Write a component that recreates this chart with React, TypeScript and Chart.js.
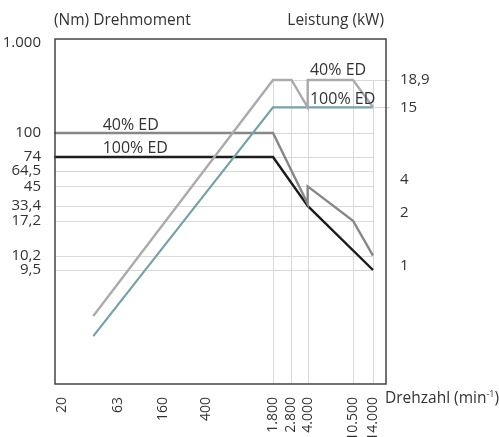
import React, { useEffect, useRef } from 'react';
import { Chart, registerables, LinearScale } from 'chart.js';

Chart.register(...registerables);

// ---------- DATA ----------
const xTickValues = [20, 63, 160, 400, 1800, 2800, 4000, 10500, 14000];
const xTickLabels = ['20', '63', '160', '400', '1.800', '2.800', '4.000', '10.500', '14.000'];
const leftTickValues = [1000, 100, 74, 64.5, 45, 33.4, 17.2, 10.2, 9.5];
const leftTickLabels = ['1.000', '100', '74', '64,5', '45', '33,4', '17,2', '10,2', '9,5'];
const rightTickValues = [18.9, 15, 4, 2, 1];
const rightTickLabels = ['18,9', '15', '4', '2', '1'];

// grid lines that appear in the reference
const leftGridValues = [100, 74, 64.5, 45, 33.4, 17.2, 10.2, 9.5];
const xGridValues = [1800, 2800, 4000, 10500, 14000];
const rightGridValues = [18.9, 15];

// series: Drehmoment (Nm)
const torque40Rpm = [17, 1800, 4000, 4000, 10500, 14000];
const torque40Nm = [100, 100, 34.5, 45, 17.2, 10.2];
const torque100Rpm = [17, 1800, 4000, 14000];
const torque100Nm = [74, 74, 33.4, 9.5];
// series: Leistung (kW)
const power40Rpm = [38, 1800, 2800, 4000, 4000, 10500, 14000];
const power40Kw = [0.52, 18.9, 18.9, 15, 18.9, 18.9, 15];
const power100Rpm = [38, 1800, 14000];
const power100Kw = [0.4, 15, 15];

// ---------- AXIS LAYOUT (where each tick sits along its axis, 0..1) ----------
const xTickFractions = [0.0211, 0.1903, 0.3263, 0.4562, 0.6586, 0.7145, 0.7634, 0.9003, 0.9607];
const leftTickFractions = [0.9884, 0.7275, 0.658, 0.6174, 0.573, 0.516, 0.4733, 0.3719, 0.3304];
const rightTickFractions = [0.8812, 0.802, 0.5913, 0.4957, 0.342];

const anchorsById: Record<string, { values: number[]; fracs: number[] }> = {
  x: { values: xTickValues, fracs: xTickFractions },
  yL: { values: leftTickValues, fracs: leftTickFractions },
  yR: { values: rightTickValues, fracs: rightTickFractions },
};

function sortedAnchors(id: string) {
  const a = anchorsById[id];
  return a.values.map((v, i) => [Math.log10(v), a.fracs[i]]).sort((p, q) => p[0] - q[0]);
}

function valueToFrac(id: string, v: number) {
  const pts = sortedAnchors(id);
  const lv = Math.log10(v);
  let i = 0;
  if (lv >= pts[pts.length - 1][0]) i = pts.length - 2;
  else if (lv > pts[0][0]) {
    while (lv > pts[i + 1][0]) i++;
  }
  const [a0, f0] = pts[i];
  const [a1, f1] = pts[i + 1];
  return f0 + ((lv - a0) / (a1 - a0)) * (f1 - f0);
}

function fracToValue(id: string, f: number) {
  const pts = sortedAnchors(id);
  let i = 0;
  if (f >= pts[pts.length - 1][1]) i = pts.length - 2;
  else if (f > pts[0][1]) {
    while (f > pts[i + 1][1]) i++;
  }
  const [a0, f0] = pts[i];
  const [a1, f1] = pts[i + 1];
  return Math.pow(10, a0 + ((f - f0) / (f1 - f0)) * (a1 - a0));
}

class AnchoredScale extends LinearScale {
  static id = 'anchored';
  static defaults = { ...(LinearScale as any).defaults };
  getPixelForValue(value: number) {
    return (this as any).getPixelForDecimal(valueToFrac((this as any).id, value));
  }
  getValueForPixel(pixel: number) {
    return fracToValue((this as any).id, (this as any).getDecimalForPixel(pixel));
  }
}
Chart.register(AnchoredScale as any);

const FONT = '"Open Sans", "DejaVu Sans", sans-serif';
const TEXT = '#333333';
const GRID = '#d9d9d9';

const edLabels = [
  { text: '40% ED', rpm: 46, value: 100, axis: 'yL', dy: -3 },
  { text: '100% ED', rpm: 46, value: 74, axis: 'yL', dy: -4 },
  { text: '40% ED', rpm: 4200, value: 18.9, axis: 'yR', dy: -5 },
  { text: '100% ED', rpm: 4200, value: 15, axis: 'yR', dy: -3.5 },
];

const decorPlugin = {
  id: 'decor',
  beforeDatasetsDraw(chart: any) {
    const { ctx, chartArea, scales } = chart;
    const sx = scales.x, yL = scales.yL, yR = scales.yR;
    ctx.save();
    ctx.strokeStyle = GRID;
    ctx.lineWidth = 1;
    const xEnd = sx.getPixelForValue(xTickValues[xTickValues.length - 1]);
    leftGridValues.forEach((v) => {
      const y = Math.round(yL.getPixelForValue(v)) + 0.5;
      ctx.beginPath();
      ctx.moveTo(chartArea.left, y);
      ctx.lineTo(xEnd, y);
      ctx.stroke();
    });
    const yTop = yR.getPixelForValue(rightGridValues[0]);
    xGridValues.forEach((v) => {
      const x = Math.round(sx.getPixelForValue(v)) + 0.5;
      ctx.beginPath();
      ctx.moveTo(x, yTop);
      ctx.lineTo(x, chartArea.bottom);
      ctx.stroke();
    });
    const xStart = sx.getPixelForValue(xGridValues[0]);
    rightGridValues.forEach((v) => {
      const y = Math.round(yR.getPixelForValue(v)) + 0.5;
      ctx.beginPath();
      ctx.moveTo(xStart, y);
      ctx.lineTo(chartArea.right + 4, y);
      ctx.stroke();
    });
    ctx.restore();
  },
  afterDatasetsDraw(chart: any) {
    const { ctx, chartArea, scales } = chart;
    ctx.save();
    ctx.strokeStyle = '#444444';
    ctx.lineWidth = 1.5;
    ctx.strokeRect(chartArea.left, chartArea.top, chartArea.right - chartArea.left, chartArea.bottom - chartArea.top);

    ctx.fillStyle = TEXT;
    ctx.textBaseline = 'alphabetic';
    ctx.font = `15.5px ${FONT}`;
    ctx.textAlign = 'left';
    ctx.fillText('(Nm) Drehmoment', 54, 25);
    ctx.textAlign = 'right';
    ctx.fillText('Leistung (kW)', 384, 25);

    // x axis title with superscript
    ctx.textAlign = 'left';
    let x = 385;
    const by = 403;
    ctx.fillText('Drehzahl (min', x, by);
    x += ctx.measureText('Drehzahl (min').width;
    ctx.font = `9px ${FONT}`;
    ctx.fillText('-1', x, by - 6);
    x += ctx.measureText('-1').width;
    ctx.font = `15.5px ${FONT}`;
    ctx.fillText(')', x, by);

    ctx.font = `16px ${FONT}`;
    edLabels.forEach((l) => {
      const px = scales.x.getPixelForValue(l.rpm);
      const py = scales[l.axis].getPixelForValue(l.value) + l.dy;
      ctx.fillText(l.text, px, py);
    });
    ctx.restore();
  },
};

function App() {
  const canvasRef = useRef<HTMLCanvasElement | null>(null);

  useEffect(() => {
    const canvas = canvasRef.current;
    if (!canvas) return;
    const toPts = (xs: number[], ys: number[]) => xs.map((x, i) => ({ x, y: ys[i] }));
    const lineDs = (label: string, data: any[], color: string, width: number, axis: string) => ({
      label,
      data,
      borderColor: color,
      backgroundColor: color,
      borderWidth: width,
      pointRadius: 0,
      tension: 0,
      fill: false,
      yAxisID: axis,
      borderJoinStyle: 'miter' as const,
    });

    const chart = new Chart(canvas, {
      type: 'line',
      data: {
        datasets: [
          lineDs('Leistung 40% ED', toPts(power40Rpm, power40Kw), '#ababab', 2.4, 'yR'),
          lineDs('Leistung 100% ED', toPts(power100Rpm, power100Kw), '#76a1a9', 2.2, 'yR'),
          lineDs('Drehmoment 40% ED', toPts(torque40Rpm, torque40Nm), '#878787', 2.4, 'yL'),
          lineDs('Drehmoment 100% ED', toPts(torque100Rpm, torque100Nm), '#1c1c1c', 2.4, 'yL'),
        ],
      },
      options: {
        responsive: false,
        animation: false,
        events: [],
        layout: { padding: { top: 39, left: 0, right: 0, bottom: 0 } },
        plugins: { legend: { display: false }, tooltip: { enabled: false } },
        scales: {
          x: {
            type: 'anchored' as any,
            position: 'bottom',
            grid: { display: false },
            border: { display: false },
            afterFit: (s: any) => { s.height = 53; },
            afterBuildTicks: (s: any) => { s.ticks = xTickValues.map((v) => ({ value: v })); },
            ticks: {
              autoSkip: false,
              minRotation: 90,
              maxRotation: 90,
              padding: 5,
              color: TEXT,
              font: { family: FONT, size: 14 },
              callback: (v: any) => xTickLabels[xTickValues.indexOf(Number(v))],
            },
          },
          yL: {
            type: 'anchored' as any,
            position: 'left',
            grid: { display: false },
            border: { display: false },
            afterFit: (s: any) => { s.width = 55; },
            afterBuildTicks: (s: any) => { s.ticks = leftTickValues.map((v) => ({ value: v })); },
            ticks: {
              autoSkip: false,
              padding: 6,
              color: TEXT,
              font: { family: FONT, size: 15 },
              callback: (v: any) => leftTickLabels[leftTickValues.indexOf(Number(v))],
            },
          },
          yR: {
            type: 'anchored' as any,
            position: 'right',
            grid: { display: false },
            border: { display: false },
            afterFit: (s: any) => { s.width = 113; },
            afterBuildTicks: (s: any) => { s.ticks = rightTickValues.map((v) => ({ value: v })); },
            ticks: {
              autoSkip: false,
              padding: 6,
              color: TEXT,
              font: { family: FONT, size: 15 },
              callback: (v: any) => rightTickLabels[rightTickValues.indexOf(Number(v))],
            },
          },
        },
      },
      plugins: [decorPlugin],
    });
    return () => chart.destroy();
  }, []);

  return (
    <div style={{ position: 'absolute', left: 0, top: 0, width: 499, height: 437 }}>
      <canvas ref={canvasRef} width={499} height={437} style={{ display: 'block' }} />
    </div>
  );
}

export default App;
